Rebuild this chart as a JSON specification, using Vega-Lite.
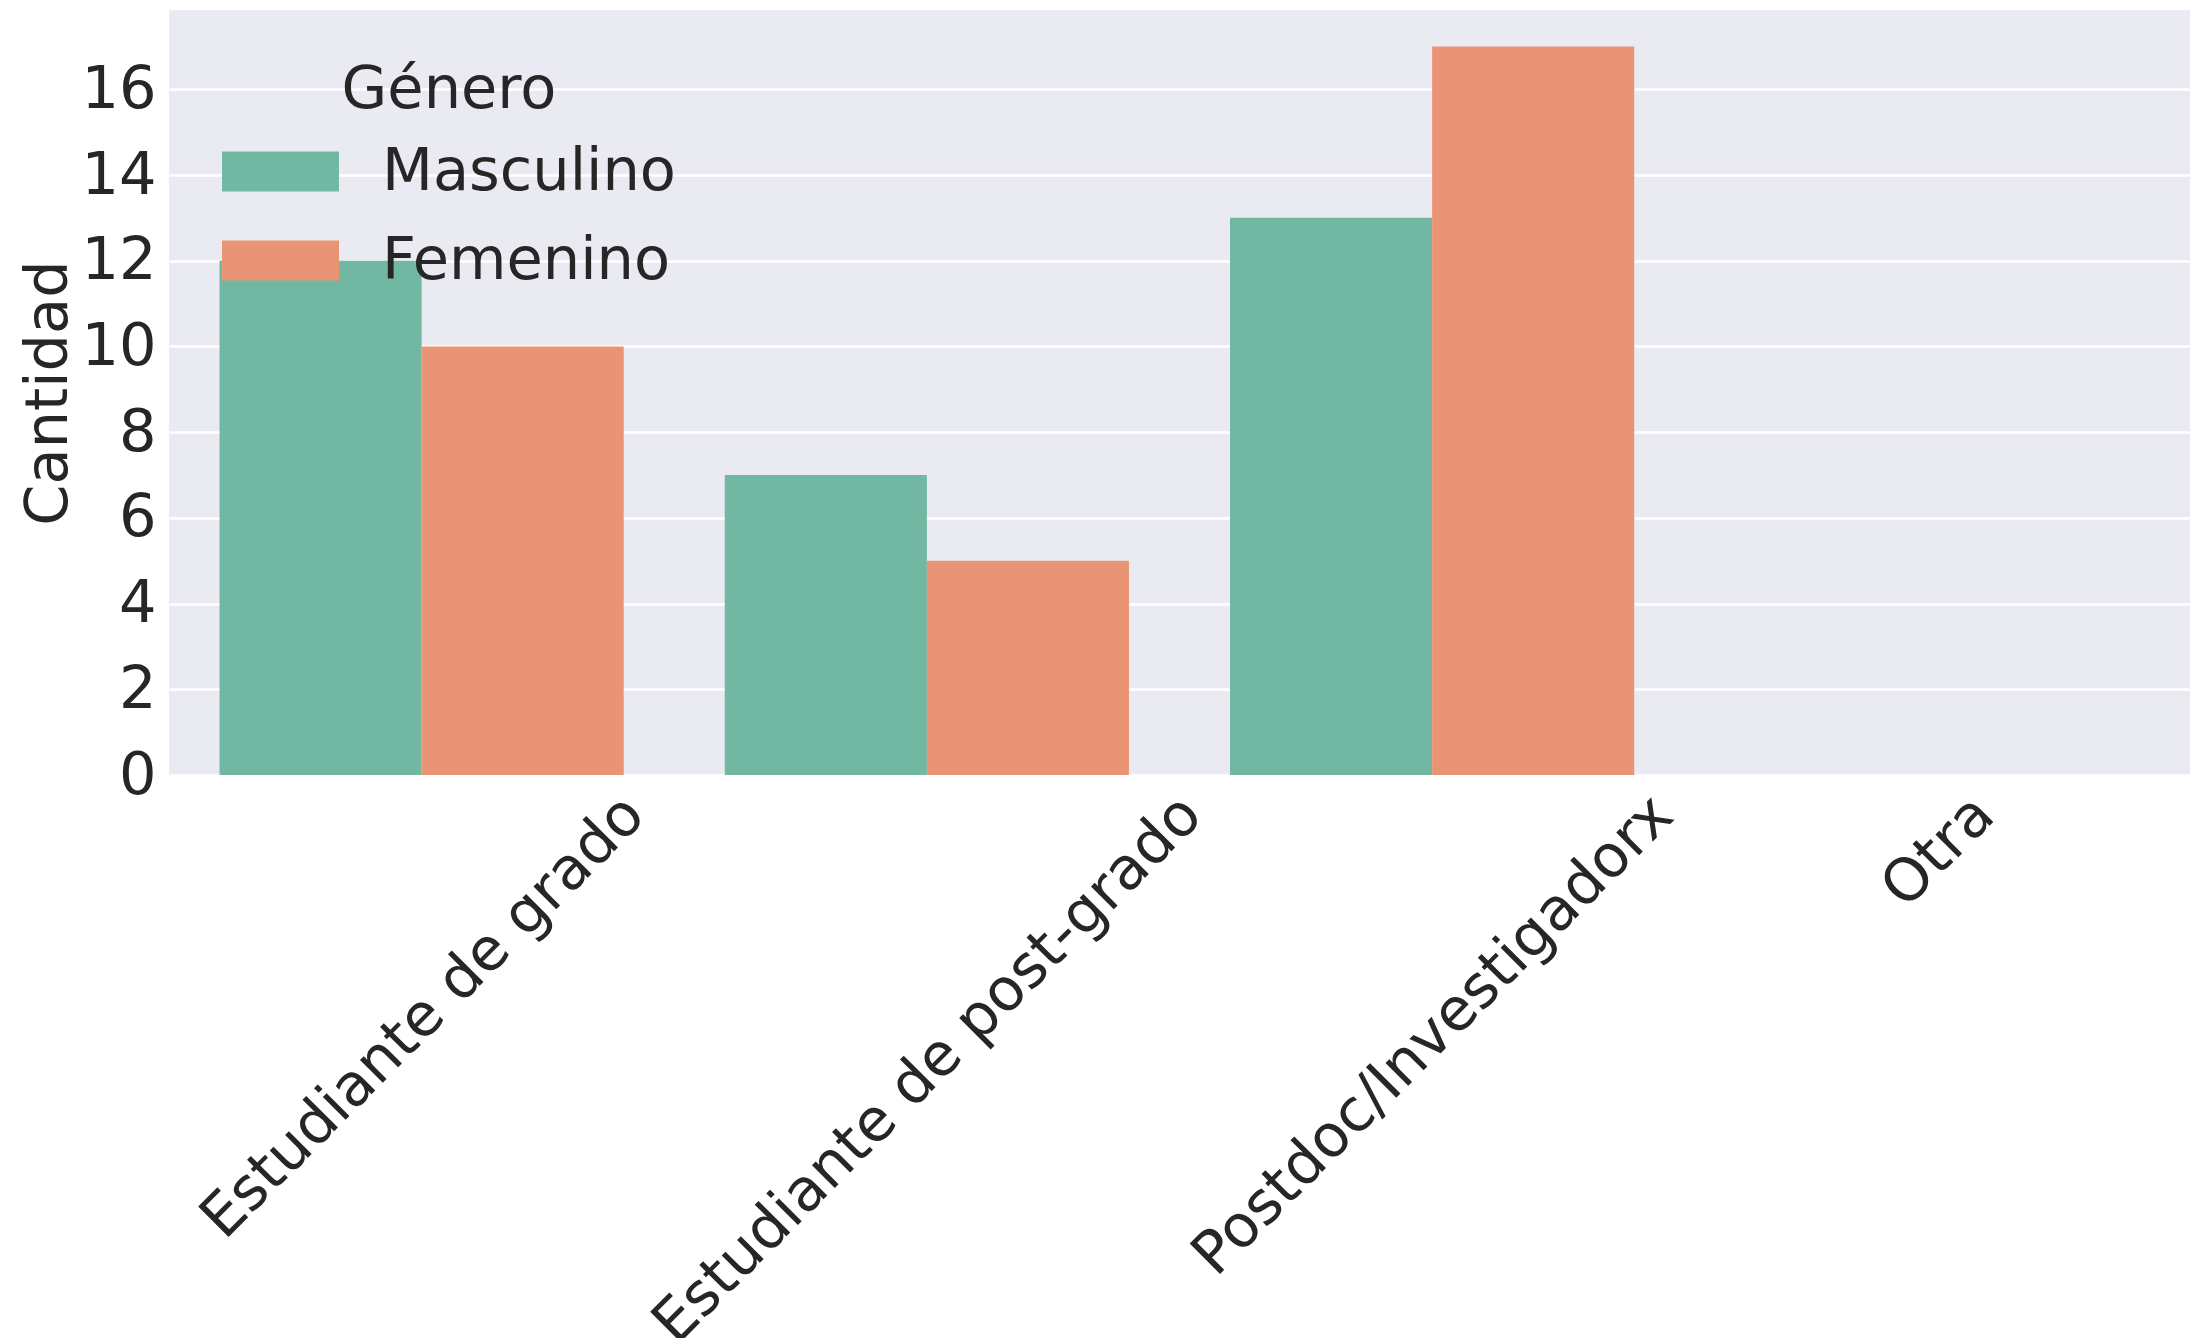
{
  "$schema": "https://vega.github.io/schema/vega-lite/v6.json",
  "autosize": {"type": "none"},
  "padding": {"left": 169, "top": 10, "right": 0, "bottom": 563},
  "width": 2021,
  "height": 765,
  "background": "white",
  "config": {
    "view": {"fill": "#EAEAF2", "stroke": null},
    "font": "DejaVu Sans",
    "axis": {
      "labelFont": "DejaVu Sans",
      "titleFont": "DejaVu Sans",
      "labelColor": "#262626",
      "titleColor": "#262626",
      "titleFontWeight": "normal",
      "domain": false,
      "ticks": false
    },
    "legend": {
      "labelFont": "DejaVu Sans",
      "titleFont": "DejaVu Sans",
      "labelColor": "#262626",
      "titleColor": "#262626",
      "titleFontWeight": "normal",
      "labelLimit": 2000,
      "titleLimit": 2000
    }
  },
  "data": {
    "values": [
      {"Ocupacion": "Estudiante de grado", "Genero": "Masculino", "Cantidad": 12},
      {"Ocupacion": "Estudiante de grado", "Genero": "Femenino", "Cantidad": 10},
      {"Ocupacion": "Estudiante de post-grado", "Genero": "Masculino", "Cantidad": 7},
      {"Ocupacion": "Estudiante de post-grado", "Genero": "Femenino", "Cantidad": 5},
      {"Ocupacion": "Postdoc/Investigadorx", "Genero": "Masculino", "Cantidad": 13},
      {"Ocupacion": "Postdoc/Investigadorx", "Genero": "Femenino", "Cantidad": 17},
      {"Ocupacion": "Otra", "Genero": "Masculino", "Cantidad": 0},
      {"Ocupacion": "Otra", "Genero": "Femenino", "Cantidad": 0}
    ]
  },
  "mark": {"type": "bar"},
  "encoding": {
    "x": {
      "field": "Ocupacion",
      "type": "nominal",
      "sort": ["Estudiante de grado", "Estudiante de post-grado", "Postdoc/Investigadorx", "Otra"],
      "scale": {"paddingInner": 0.2, "paddingOuter": 0.1},
      "axis": {
        "title": null,
        "labelAngle": -45,
        "labelAlign": "right",
        "labelBaseline": "middle",
        "labelFontSize": 59,
        "labelPadding": 30,
        "labelLimit": 2000,
        "labelOverlap": false,
        "labelBound": false,
        "labelFlush": false,
        "labelOffset": {
          "condition": [
            {"test": "datum.value === 'Estudiante de grado'", "value": 213},
            {"test": "datum.value === 'Estudiante de post-grado'", "value": 265},
            {"test": "datum.value === 'Postdoc/Investigadorx'", "value": 231}
          ],
          "value": 47
        },
        "grid": false
      }
    },
    "xOffset": {
      "field": "Genero",
      "type": "nominal",
      "sort": ["Masculino", "Femenino"],
      "scale": {"paddingInner": 0, "paddingOuter": 0}
    },
    "y": {
      "field": "Cantidad",
      "type": "quantitative",
      "scale": {"domain": [0, 17.85], "nice": false, "zero": true},
      "axis": {
        "title": "Cantidad",
        "titleFontSize": 59,
        "titlePadding": 2,
        "labelFontSize": 59,
        "labelPadding": 13,
        "labelFlush": false,
        "labelBound": false,
        "values": [0, 2, 4, 6, 8, 10, 12, 14, 16],
        "grid": true,
        "gridColor": "white",
        "gridWidth": 2.5
      }
    },
    "color": {
      "field": "Genero",
      "type": "nominal",
      "sort": ["Masculino", "Femenino"],
      "title": "Género",
      "scale": {"domain": ["Masculino", "Femenino"], "range": ["#71b7a1", "#e99575"]},
      "legend": {
        "orient": "none",
        "legendX": 53,
        "legendY": 51,
        "padding": 0,
        "titleFontSize": 59,
        "titleAnchor": "middle",
        "titlePadding": -7,
        "labelFontSize": 59,
        "labelOffset": 43,
        "labelLimit": 2000,
        "titleLimit": 2000,
        "symbolType": "M-1,-0.342H1V0.342H-1Z",
        "symbolSize": 13689,
        "symbolStrokeWidth": 0,
        "symbolOpacity": 1,
        "rowPadding": -45
      }
    }
  }
}
